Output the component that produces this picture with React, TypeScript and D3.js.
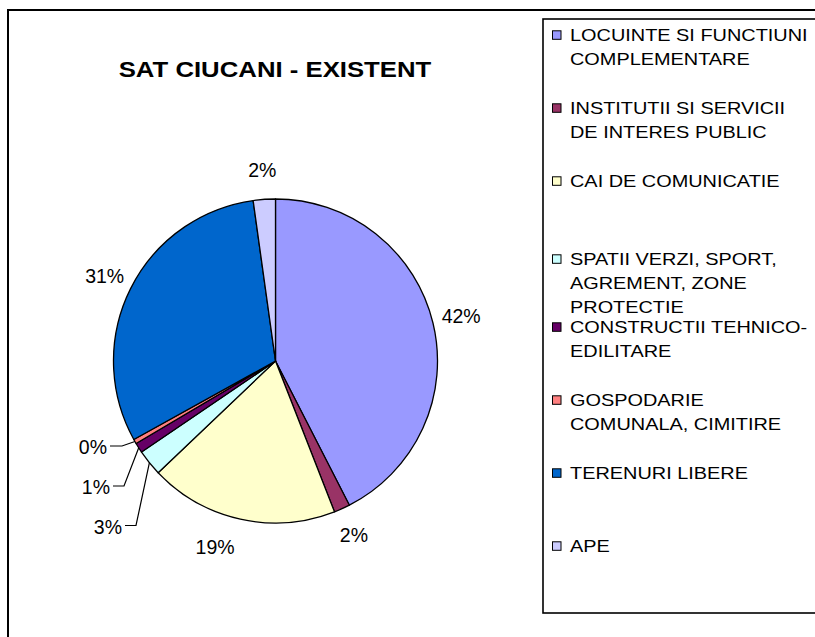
import React, { useEffect, useRef } from "react";
import * as d3 from "d3";

// chart data
const title = "SAT CIUCANI - EXISTENT";
const categories = [
  "LOCUINTE SI FUNCTIUNI\nCOMPLEMENTARE",
  "INSTITUTII SI SERVICII\nDE INTERES PUBLIC",
  "CAI DE COMUNICATIE",
  "SPATII VERZI, SPORT,\nAGREMENT, ZONE\nPROTECTIE",
  "CONSTRUCTII TEHNICO-\nEDILITARE",
  "GOSPODARIE\nCOMUNALA, CIMITIRE",
  "TERENURI LIBERE",
  "APE",
];
const values = [42.4, 1.6, 18.8, 2.6, 1.0, 0.45, 30.8, 2.2];
const colors = ["#9999FF", "#993366", "#FFFFCC", "#CCFFFF", "#660066", "#FF8080", "#0066CC", "#CCCCFF"];

// labels of the thin slices sit off to the left with leader lines
const leaderLabels: { [k: number]: { x: number; y: number; elbow: number } } = {
  3: { x: 122, y: 526.5, elbow: 136 },
  4: { x: 110, y: 487, elbow: 124 },
  5: { x: 107, y: 447, elbow: 122 },
};
// small shifts where excel moved a label / legend row
const labelNudge: { [k: number]: [number, number] } = { 2: [-19, 0] };
const legendNudge: { [k: number]: number } = { 3: 5 };

const FONT = "'Liberation Sans', Arial, sans-serif";

export default function App() {
  const ref = useRef<SVGSVGElement>(null);

  useEffect(() => {
    const svg = d3.select(ref.current);
    svg.selectAll("*").remove();
    const W = 815, H = 637;
    const cx = 275.5, cy = 361, r = 162;

    // outer chart frame
    svg.append("rect")
      .attr("x", 8).attr("y", 10)
      .attr("width", W).attr("height", H)
      .attr("fill", "#fff")
      .attr("stroke", "#000")
      .attr("stroke-width", 2);

    svg.append("text")
      .attr("transform", "translate(275,76.7) scale(1.17,1)")
      .attr("text-anchor", "middle")
      .attr("font-family", FONT)
      .attr("font-weight", "bold")
      .attr("font-size", 22)
      .text(title);

    const pie = d3.pie<number>().sort(null).value(d => d);
    const arcs = pie(values);
    const total = d3.sum(values);
    const arc = d3.arc<d3.PieArcDatum<number>>().innerRadius(0).outerRadius(r);
    const labelArc = d3.arc<d3.PieArcDatum<number>>().innerRadius(191).outerRadius(191);
    const edgeArc = d3.arc<d3.PieArcDatum<number>>().innerRadius(r).outerRadius(r);

    const g = svg.append("g").attr("transform", `translate(${cx},${cy})`);
    g.selectAll("path.slice")
      .data(arcs)
      .join("path")
      .attr("class", "slice")
      .attr("d", arc as any)
      .attr("fill", (d, i) => colors[i])
      .attr("stroke", "#000")
      .attr("stroke-width", 1.3)
      .attr("stroke-linejoin", "round");

    const fmt = (v: number) => `${Math.round((v / total) * 100)}%`;
    const capHalf = 7;

    arcs.forEach((a, i) => {
      const lead = leaderLabels[i];
      if (lead) {
        const [ex, ey] = edgeArc.centroid(a);
        g.append("polyline")
          .attr("points", `${lead.x + 3 - cx},${lead.y - 1 - cy} ${lead.elbow - cx},${lead.y - 1 - cy} ${ex},${ey}`)
          .attr("fill", "none")
          .attr("stroke", "#000")
          .attr("stroke-width", 1.2);
        g.append("text")
          .attr("x", lead.x - cx)
          .attr("y", lead.y - cy + capHalf)
          .attr("text-anchor", "end")
          .attr("font-family", FONT)
          .attr("font-size", 19.5)
          .text(fmt(a.data));
      } else {
        const [lx, ly] = labelArc.centroid(a);
        const [nx, ny] = labelNudge[i] || [0, 0];
        g.append("text")
          .attr("x", lx + nx)
          .attr("y", ly + ny + capHalf)
          .attr("text-anchor", "middle")
          .attr("font-family", FONT)
          .attr("font-size", 19.5)
          .text(fmt(a.data));
      }
    });

    // legend
    svg.append("rect")
      .attr("x", 543).attr("y", 19)
      .attr("width", 320).attr("height", 594)
      .attr("fill", "none")
      .attr("stroke", "#000")
      .attr("stroke-width", 1.6);

    const legendTop = 35, legendStep = 73, lineGap = 24;
    categories.forEach((c, i) => {
      const yc = legendTop + i * legendStep + (legendNudge[i] || 0);
      svg.append("rect")
        .attr("x", 552.5).attr("y", yc - 4.2)
        .attr("width", 8.5).attr("height", 8.5)
        .attr("fill", colors[i])
        .attr("stroke", "#000")
        .attr("stroke-width", 1);
      c.split("\n").forEach((ln, j) => {
        svg.append("text")
          .attr("transform", `translate(570,${yc + j * lineGap + 6.1}) scale(1.17,1)`)
          .attr("font-family", FONT)
          .attr("font-size", 17)
          .text(ln);
      });
    });
  }, []);

  return (
    <svg
      ref={ref}
      width={815}
      height={637}
      style={{ position: "absolute", left: 0, top: 0, background: "#fff" }}
    />
  );
}
